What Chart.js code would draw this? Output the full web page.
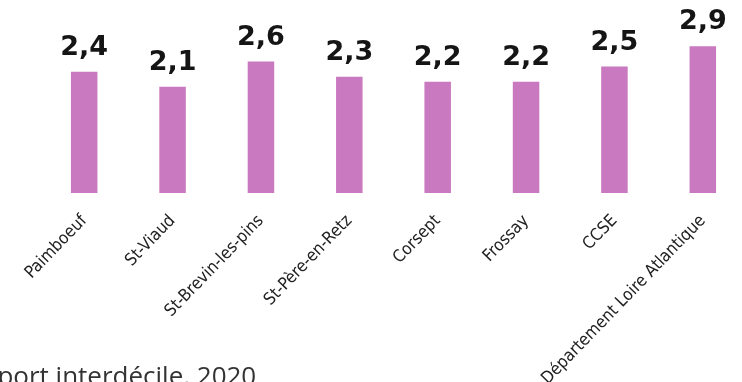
<!DOCTYPE html>
<html>
<head>
<meta charset="utf-8">
<script src="https://cdn.jsdelivr.net/npm/chart.js@4"></script>
<style>
  html, body { margin: 0; padding: 0; background: #fff; overflow: hidden; }
  #wrap { position: relative; width: 742px; height: 382px; overflow: hidden; }
  #box { position: absolute; left: 0; top: 0; width: 760px; height: 382px; }
  #note {
    position: absolute; left: -49px; top: 362px; white-space: nowrap;
    font-family: "Open Sans", sans-serif; font-size: 26px; line-height: 26px; color: #333;
  }
</style>
</head>
<body>
<div id="wrap">
  <div id="box"><canvas id="myChart" width="760" height="382"></canvas></div>
  <div id="note">Rapport interdécile, 2020</div>
</div>
<script>
var communes = ["Paimboeuf", "St-Viaud", "St-Brevin-les-pins", "St-Père-en-Retz", "Corsept", "Frossay", "CCSE", "Département Loire Atlantique"];
var rapport = [2.4, 2.1, 2.6, 2.3, 2.2, 2.2, 2.5, 2.9];

// value labels above the bars, decimal comma
var valueLabels = {
  id: "valueLabels",
  afterDatasetsDraw: function (chart) {
    var ctx = chart.ctx;
    var meta = chart.getDatasetMeta(0);
    ctx.save();
    ctx.font = "bold 27px 'DejaVu Sans'";
    ctx.fillStyle = "#151515";
    ctx.textAlign = "center";
    ctx.textBaseline = "alphabetic";
    meta.data.forEach(function (bar, i) {
      ctx.fillText(rapport[i].toFixed(1).replace(".", ","), bar.x, bar.y - 17);
    });
    ctx.restore();
  },
};

var ctx = document.getElementById("myChart").getContext("2d");
var chart = new Chart(ctx, {
  type: "bar",
  data: {
    labels: communes,
    datasets: [
      {
        data: rapport,
        backgroundColor: "#c879c0",
        borderWidth: 0,
        barPercentage: 0.6,
        categoryPercentage: 0.5,
      },
    ],
  },
  options: {
    responsive: false,
    animation: false,
    layout: { padding: { left: 40, right: 13, top: 16, bottom: 0 } },
    plugins: { legend: { display: false }, tooltip: { enabled: false } },
    scales: {
      x: {
        grid: { display: false },
        border: { display: false },
        ticks: {
          minRotation: 46,
          maxRotation: 46,
          autoSkip: false,
          padding: 10,
          color: "#222",
          font: { family: "'DejaVu Sans Condensed', 'DejaVu Sans'", size: 17 },
        },
        afterFit: function (scale) {
          scale.height = 189;
        },
      },
      y: { display: false, min: 0, max: 3.5 },
    },
  },
  plugins: [valueLabels],
});
</script>
</body>
</html>
